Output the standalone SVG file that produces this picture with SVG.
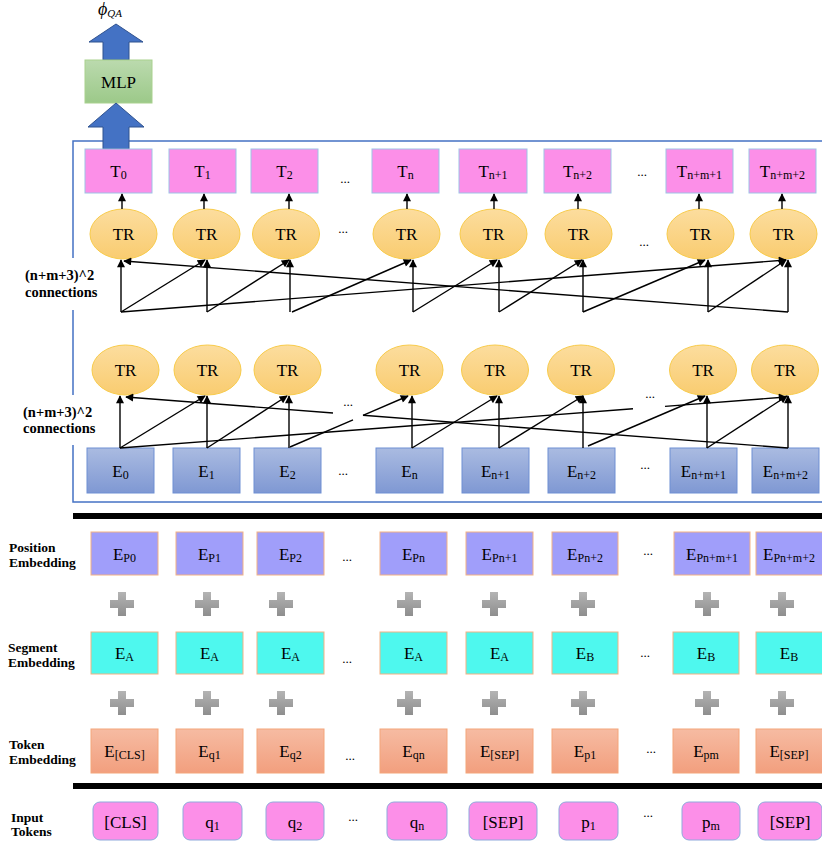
<svg xmlns="http://www.w3.org/2000/svg" xmlns:xlink="http://www.w3.org/1999/xlink" width="822" height="845" viewBox="0 0 822 845">
<style>
text{font-family:"Liberation Serif","Times New Roman",serif;fill:#000}
.lbl{font-size:17px;text-anchor:middle}
.sub{font-size:12px}
.side{font-size:13.5px;font-weight:bold}
.conn{font-size:14.5px;font-weight:bold}
.dots{font-size:13px;text-anchor:middle}
.tbox{fill:#FC8FE8;stroke:#9DC3E6;stroke-width:1}
.inp{fill:#FC8FE8;stroke:#8FAADC;stroke-width:1}
.tr{fill:url(#gTR);stroke:#F8CB4A;stroke-width:1}
.ebox{fill:url(#gE);stroke:#6E8FD3;stroke-width:1}
.pos{fill:#A09EFA;stroke:#F4B183;stroke-width:1}
.seg{fill:#4EF8EE;stroke:#F4B183;stroke-width:1}
.tok{fill:url(#gTok);stroke:#F4A57A;stroke-width:1}
.con line,.con path{stroke:#000;stroke-width:1.4;fill:none}
.arr{marker-end:url(#ah)}
.bigarrow{fill:#4472C4;stroke:#2F528F;stroke-width:1}
</style>
<defs>
<linearGradient id="gTR" x1="0" y1="0" x2="0" y2="1"><stop offset="0" stop-color="#FCDD9E"/><stop offset="1" stop-color="#F9CC70"/></linearGradient>
<linearGradient id="gE" x1="0" y1="0" x2="0" y2="1"><stop offset="0" stop-color="#AABBE1"/><stop offset="1" stop-color="#7F98D3"/></linearGradient>
<linearGradient id="gTok" x1="0" y1="0" x2="0" y2="1"><stop offset="0" stop-color="#F6BBA2"/><stop offset="1" stop-color="#F29F7E"/></linearGradient>
<linearGradient id="gMLP" x1="0" y1="0" x2="0" y2="1"><stop offset="0" stop-color="#BBDAAE"/><stop offset="1" stop-color="#9CC989"/></linearGradient>
<linearGradient id="gPlus" x1="0" y1="0" x2="0" y2="1"><stop offset="0" stop-color="#B4B4B4"/><stop offset="1" stop-color="#8E8E8E"/></linearGradient>
<marker id="ah" viewBox="0 0 10 10" refX="9" refY="5" markerWidth="9" markerHeight="8" markerUnits="userSpaceOnUse" orient="auto"><path d="M0,0 L10,5 L0,10 z" fill="#000"/></marker>
<path id="plus" d="M-4,-12 h8 v8 h8 v8 h-8 v8 h-8 v-8 h-8 v-8 h8 z" fill="url(#gPlus)"/>
</defs>
<rect width="822" height="845" fill="#fff"/>

<!-- outer encoder box -->
<rect id="encoder-box" x="73" y="141" width="780" height="361" fill="none" stroke="#4472C4" stroke-width="1.5"/>
<rect x="15" y="258" width="85" height="52" fill="#fff"/>
<rect x="15" y="395" width="85" height="50" fill="#fff"/>

<!-- top output -->
<g id="phi"><text x="98" y="15" style="font-size:18px;font-style:italic">ϕ<tspan style="font-size:11px" dy="2">QA</tspan></text></g>
<g id="arrow-out"><polygon class="bigarrow" points="116,24 143,42 129,42 129,60 103,60 103,42 89,42"/></g>
<g id="mlp"><rect x="85" y="60" width="67" height="43" fill="url(#gMLP)" stroke="#A9D18E" stroke-width="1"/><text class="lbl" x="118.5" y="88">MLP</text></g>
<g id="arrow-in"><polygon class="bigarrow" points="116,103 144,127 129,127 129,149 103,149 103,127 88,127"/></g>

<!-- T row -->
<g id="T0"><rect class="tbox" x="85" y="149" width="67" height="44"/><text class="lbl" x="118.5" y="177">T<tspan class="sub" dy="2">0</tspan></text></g>
<g id="T1"><rect class="tbox" x="169" y="149" width="67" height="44"/><text class="lbl" x="202.5" y="177">T<tspan class="sub" dy="2">1</tspan></text></g>
<g id="T2"><rect class="tbox" x="251" y="149" width="67" height="44"/><text class="lbl" x="284.5" y="177">T<tspan class="sub" dy="2">2</tspan></text></g>
<g id="Tn"><rect class="tbox" x="372" y="149" width="67" height="44"/><text class="lbl" x="405.5" y="177">T<tspan class="sub" dy="2">n</tspan></text></g>
<g id="Tn1"><rect class="tbox" x="459" y="149" width="68" height="44"/><text class="lbl" x="493" y="177">T<tspan class="sub" dy="2">n+1</tspan></text></g>
<g id="Tn2"><rect class="tbox" x="544" y="149" width="67" height="44"/><text class="lbl" x="577.5" y="177">T<tspan class="sub" dy="2">n+2</tspan></text></g>
<g id="Tnm1"><rect class="tbox" x="666" y="149" width="67" height="44"/><text class="lbl" x="699.5" y="177">T<tspan class="sub" dy="2">n+m+1</tspan></text></g>
<g id="Tnm2"><rect class="tbox" x="749" y="149" width="67" height="44"/><text class="lbl" x="782.5" y="177">T<tspan class="sub" dy="2">n+m+2</tspan></text></g>
<text class="dots" x="345" y="183">...</text>
<text class="dots" x="642" y="176">...</text>

<!-- top TR row -->
<g id="TRa0"><ellipse class="tr" cx="123.5" cy="234" rx="33.5" ry="25"/><text class="lbl" x="123.5" y="240">TR</text></g>
<g id="TRa1"><ellipse class="tr" cx="206.5" cy="234" rx="33.5" ry="25"/><text class="lbl" x="206.5" y="240">TR</text></g>
<g id="TRa2"><ellipse class="tr" cx="286" cy="234" rx="33.5" ry="25"/><text class="lbl" x="286" y="240">TR</text></g>
<g id="TRan"><ellipse class="tr" cx="406.5" cy="234" rx="33.5" ry="25"/><text class="lbl" x="406.5" y="240">TR</text></g>
<g id="TRan1"><ellipse class="tr" cx="493.5" cy="234" rx="33.5" ry="25"/><text class="lbl" x="493.5" y="240">TR</text></g>
<g id="TRan2"><ellipse class="tr" cx="578.5" cy="234" rx="33.5" ry="25"/><text class="lbl" x="578.5" y="240">TR</text></g>
<g id="TRanm1"><ellipse class="tr" cx="700.5" cy="234" rx="33.5" ry="25"/><text class="lbl" x="700.5" y="240">TR</text></g>
<g id="TRanm2"><ellipse class="tr" cx="783.5" cy="234" rx="33.5" ry="25"/><text class="lbl" x="783.5" y="240">TR</text></g>
<text class="dots" x="343" y="233">...</text>
<text class="dots" x="644" y="246">...</text>

<!-- bottom TR row -->
<g id="TRb0"><ellipse class="tr" cx="125.5" cy="370" rx="33.5" ry="25"/><text class="lbl" x="125.5" y="376">TR</text></g>
<g id="TRb1"><ellipse class="tr" cx="207.5" cy="370" rx="33.5" ry="25"/><text class="lbl" x="207.5" y="376">TR</text></g>
<g id="TRb2"><ellipse class="tr" cx="287.5" cy="370" rx="33.5" ry="25"/><text class="lbl" x="287.5" y="376">TR</text></g>
<g id="TRbn"><ellipse class="tr" cx="409.5" cy="370" rx="33.5" ry="25"/><text class="lbl" x="409.5" y="376">TR</text></g>
<g id="TRbn1"><ellipse class="tr" cx="495" cy="370" rx="33.5" ry="25"/><text class="lbl" x="495" y="376">TR</text></g>
<g id="TRbn2"><ellipse class="tr" cx="581" cy="370" rx="33.5" ry="25"/><text class="lbl" x="581" y="376">TR</text></g>
<g id="TRbnm1"><ellipse class="tr" cx="703" cy="370" rx="33.5" ry="25"/><text class="lbl" x="703" y="376">TR</text></g>
<g id="TRbnm2"><ellipse class="tr" cx="785" cy="370" rx="33.5" ry="25"/><text class="lbl" x="785" y="376">TR</text></g>
<text class="dots" x="348" y="406">...</text>
<text class="dots" x="650" y="398">...</text>

<!-- E row -->
<g id="E0"><rect class="ebox" x="87" y="448" width="67" height="45"/><text class="lbl" x="120.5" y="477">E<tspan class="sub" dy="2">0</tspan></text></g>
<g id="E1"><rect class="ebox" x="173" y="448" width="67" height="45"/><text class="lbl" x="206.5" y="477">E<tspan class="sub" dy="2">1</tspan></text></g>
<g id="E2"><rect class="ebox" x="254" y="448" width="67" height="45"/><text class="lbl" x="287.5" y="477">E<tspan class="sub" dy="2">2</tspan></text></g>
<g id="En"><rect class="ebox" x="376" y="448" width="67" height="45"/><text class="lbl" x="409.5" y="477">E<tspan class="sub" dy="2">n</tspan></text></g>
<g id="En1"><rect class="ebox" x="462" y="448" width="67" height="45"/><text class="lbl" x="495.5" y="477">E<tspan class="sub" dy="2">n+1</tspan></text></g>
<g id="En2"><rect class="ebox" x="548" y="448" width="67" height="45"/><text class="lbl" x="581.5" y="477">E<tspan class="sub" dy="2">n+2</tspan></text></g>
<g id="Enm1"><rect class="ebox" x="670" y="448" width="67" height="45"/><text class="lbl" x="703.5" y="477">E<tspan class="sub" dy="2">n+m+1</tspan></text></g>
<g id="Enm2"><rect class="ebox" x="752" y="448" width="67" height="45"/><text class="lbl" x="785.5" y="477">E<tspan class="sub" dy="2">n+m+2</tspan></text></g>
<text class="dots" x="343" y="475">...</text>
<text class="dots" x="645" y="469">...</text>

<!-- side labels -->
<g id="label-conn-top"><text class="conn" x="25" y="280">(n+m+3)^2</text><text class="conn" x="25" y="297">connections</text></g>
<g id="label-conn-bottom"><text class="conn" x="23" y="417">(n+m+3)^2</text><text class="conn" x="23" y="433">connections</text></g>

<!-- connectors -->
<g id="connectors" class="con">
<line class="arr" x1="122" y1="209" x2="122" y2="194"/>
<line class="arr" x1="204" y1="209" x2="204" y2="194"/>
<line class="arr" x1="289" y1="209" x2="289" y2="194"/>
<line class="arr" x1="407" y1="209" x2="407" y2="194"/>
<line class="arr" x1="494" y1="209" x2="494" y2="194"/>
<line class="arr" x1="578" y1="209" x2="578" y2="194"/>
<line class="arr" x1="699" y1="209" x2="699" y2="194"/>
<line class="arr" x1="782" y1="209" x2="782" y2="194"/>
<line class="arr" x1="121" y1="312" x2="121" y2="260"/>
<line class="arr" x1="121" y1="312" x2="205" y2="260"/>
<line class="arr" x1="121" y1="312" x2="786" y2="260"/>
<line class="arr" x1="788" y1="312" x2="124" y2="261"/>
<line class="arr" x1="207" y1="312" x2="207" y2="260"/>
<line class="arr" x1="207" y1="312" x2="289" y2="260"/>
<line class="arr" x1="290" y1="312" x2="290" y2="260"/>
<line class="arr" x1="292" y1="312" x2="411" y2="260"/>
<line class="arr" x1="413" y1="312" x2="413" y2="260"/>
<line class="arr" x1="413" y1="312" x2="497" y2="260"/>
<line class="arr" x1="499" y1="312" x2="499" y2="260"/>
<line class="arr" x1="499" y1="312" x2="582" y2="260"/>
<line class="arr" x1="583" y1="312" x2="583" y2="260"/>
<line class="arr" x1="583" y1="312" x2="705" y2="260"/>
<line class="arr" x1="708" y1="312" x2="708" y2="260"/>
<line class="arr" x1="708" y1="312" x2="786" y2="260"/>
<line class="arr" x1="788" y1="312" x2="788" y2="260"/>
<line class="arr" x1="120" y1="448" x2="120" y2="396"/>
<line class="arr" x1="120" y1="448" x2="205" y2="396"/>
<line x1="120" y1="448" x2="633" y2="408.8"/>
<line class="arr" x1="665" y1="406.4" x2="786" y2="397"/>
<line class="arr" x1="207" y1="448" x2="207" y2="396"/>
<line class="arr" x1="207" y1="448" x2="287" y2="396"/>
<line class="arr" x1="289" y1="448" x2="289" y2="396"/>
<line x1="290" y1="447" x2="353" y2="419.8"/>
<line class="arr" x1="363" y1="415.4" x2="408" y2="396"/>
<line class="arr" x1="412" y1="448" x2="412" y2="396"/>
<line class="arr" x1="412" y1="448" x2="497" y2="396"/>
<line class="arr" x1="499" y1="448" x2="499" y2="396"/>
<line class="arr" x1="499" y1="448" x2="583" y2="396"/>
<line class="arr" x1="583" y1="448" x2="583" y2="396"/>
<line class="arr" x1="588" y1="446" x2="705" y2="396"/>
<line class="arr" x1="707" y1="448" x2="707" y2="396"/>
<line class="arr" x1="707" y1="448" x2="787" y2="396"/>
<line class="arr" x1="788" y1="448" x2="788" y2="396"/>
<line x1="788" y1="448" x2="363" y2="415.3"/>
<line class="arr" x1="333" y1="413" x2="126" y2="397"/>
</g>

<!-- separators -->
<rect x="73" y="513" width="749" height="6" fill="#000"/>
<rect x="73" y="783" width="749" height="6" fill="#000"/>

<!-- side labels for embeddings -->
<g id="label-position"><text class="side" x="9" y="552">Position</text><text class="side" x="9" y="567">Embedding</text></g>
<g id="label-segment"><text class="side" x="8" y="652">Segment</text><text class="side" x="8" y="667">Embedding</text></g>
<g id="label-token"><text class="side" x="9" y="749">Token</text><text class="side" x="9" y="764">Embedding</text></g>
<g id="label-input"><text class="side" x="11" y="822">Input</text><text class="side" x="11" y="836">Tokens</text></g>

<!-- position embeddings -->
<g id="EP0"><rect class="pos" x="91" y="532" width="67" height="43"/><text class="lbl" x="124.5" y="560">E<tspan class="sub" dy="2">P0</tspan></text></g>
<g id="EP1"><rect class="pos" x="176" y="532" width="67" height="43"/><text class="lbl" x="209.5" y="560">E<tspan class="sub" dy="2">P1</tspan></text></g>
<g id="EP2"><rect class="pos" x="257" y="532" width="67" height="43"/><text class="lbl" x="290.5" y="560">E<tspan class="sub" dy="2">P2</tspan></text></g>
<g id="EPn"><rect class="pos" x="380" y="532" width="67" height="43"/><text class="lbl" x="413.5" y="560">E<tspan class="sub" dy="2">Pn</tspan></text></g>
<g id="EPn1"><rect class="pos" x="466" y="532" width="67" height="43"/><text class="lbl" x="499.5" y="560">E<tspan class="sub" dy="2">Pn+1</tspan></text></g>
<g id="EPn2"><rect class="pos" x="552" y="532" width="66" height="43"/><text class="lbl" x="585" y="560">E<tspan class="sub" dy="2">Pn+2</tspan></text></g>
<g id="EPnm1"><rect class="pos" x="674" y="532" width="76" height="43"/><text class="lbl" x="712" y="560">E<tspan class="sub" dy="2">Pn+m+1</tspan></text></g>
<g id="EPnm2"><rect class="pos" x="756" y="532" width="70" height="43"/><text class="lbl" x="789" y="560">E<tspan class="sub" dy="2">Pn+m+2</tspan></text></g>
<text class="dots" x="347" y="561">...</text>
<text class="dots" x="648" y="555">...</text>

<!-- plus signs -->
<g id="plus-row1">
<use xlink:href="#plus" x="122" y="604"/><use xlink:href="#plus" x="207" y="604"/><use xlink:href="#plus" x="281" y="604"/><use xlink:href="#plus" x="409" y="604"/>
<use xlink:href="#plus" x="494" y="604"/><use xlink:href="#plus" x="583" y="604"/><use xlink:href="#plus" x="707" y="604"/><use xlink:href="#plus" x="782" y="604"/>
</g>
<g id="plus-row2">
<use xlink:href="#plus" x="122" y="703"/><use xlink:href="#plus" x="207" y="703"/><use xlink:href="#plus" x="281" y="703"/><use xlink:href="#plus" x="409" y="703"/>
<use xlink:href="#plus" x="494" y="703"/><use xlink:href="#plus" x="583" y="703"/><use xlink:href="#plus" x="707" y="703"/><use xlink:href="#plus" x="782" y="703"/>
</g>

<!-- segment embeddings -->
<g id="SA0"><rect class="seg" x="91" y="632" width="67" height="42"/><text class="lbl" x="124.5" y="659">E<tspan class="sub" dy="2">A</tspan></text></g>
<g id="SA1"><rect class="seg" x="176" y="632" width="67" height="42"/><text class="lbl" x="209.5" y="659">E<tspan class="sub" dy="2">A</tspan></text></g>
<g id="SA2"><rect class="seg" x="257" y="632" width="67" height="42"/><text class="lbl" x="290.5" y="659">E<tspan class="sub" dy="2">A</tspan></text></g>
<g id="SAn"><rect class="seg" x="380" y="632" width="67" height="42"/><text class="lbl" x="413.5" y="659">E<tspan class="sub" dy="2">A</tspan></text></g>
<g id="SAn1"><rect class="seg" x="466" y="632" width="67" height="42"/><text class="lbl" x="499.5" y="659">E<tspan class="sub" dy="2">A</tspan></text></g>
<g id="SB1"><rect class="seg" x="552" y="632" width="66" height="42"/><text class="lbl" x="585" y="659">E<tspan class="sub" dy="2">B</tspan></text></g>
<g id="SBm"><rect class="seg" x="673" y="632" width="66" height="42"/><text class="lbl" x="706" y="659">E<tspan class="sub" dy="2">B</tspan></text></g>
<g id="SBsep"><rect class="seg" x="756" y="632" width="70" height="42"/><text class="lbl" x="789" y="659">E<tspan class="sub" dy="2">B</tspan></text></g>
<text class="dots" x="347" y="663">...</text>
<text class="dots" x="645" y="657">...</text>

<!-- token embeddings -->
<g id="TokCLS"><rect class="tok" x="91" y="729" width="67" height="44"/><text class="lbl" x="124.5" y="757">E<tspan class="sub" dy="2">[CLS]</tspan></text></g>
<g id="Tokq1"><rect class="tok" x="176" y="729" width="67" height="44"/><text class="lbl" x="209.5" y="757">E<tspan class="sub" dy="2">q1</tspan></text></g>
<g id="Tokq2"><rect class="tok" x="257" y="729" width="67" height="44"/><text class="lbl" x="290.5" y="757">E<tspan class="sub" dy="2">q2</tspan></text></g>
<g id="Tokqn"><rect class="tok" x="380" y="729" width="67" height="44"/><text class="lbl" x="413.5" y="757">E<tspan class="sub" dy="2">qn</tspan></text></g>
<g id="TokSEP1"><rect class="tok" x="466" y="729" width="67" height="44"/><text class="lbl" x="499.5" y="757">E<tspan class="sub" dy="2">[SEP]</tspan></text></g>
<g id="Tokp1"><rect class="tok" x="552" y="729" width="66" height="44"/><text class="lbl" x="585" y="757">E<tspan class="sub" dy="2">p1</tspan></text></g>
<g id="Tokpm"><rect class="tok" x="673" y="729" width="66" height="44"/><text class="lbl" x="706" y="757">E<tspan class="sub" dy="2">pm</tspan></text></g>
<g id="TokSEP2"><rect class="tok" x="756" y="729" width="70" height="44"/><text class="lbl" x="789" y="757">E<tspan class="sub" dy="2">[SEP]</tspan></text></g>
<text class="dots" x="350" y="760">...</text>
<text class="dots" x="651" y="753">...</text>

<!-- input tokens -->
<g id="InCLS"><rect class="inp" x="93" y="802" width="65" height="38" rx="7"/><text class="lbl" x="125.5" y="828">[CLS]</text></g>
<g id="Inq1"><rect class="inp" x="183" y="802" width="59" height="38" rx="7"/><text class="lbl" x="212.5" y="828">q<tspan class="sub" dy="2">1</tspan></text></g>
<g id="Inq2"><rect class="inp" x="266" y="802" width="58" height="38" rx="7"/><text class="lbl" x="295" y="828">q<tspan class="sub" dy="2">2</tspan></text></g>
<g id="Inqn"><rect class="inp" x="387" y="802" width="60" height="38" rx="7"/><text class="lbl" x="417" y="828">q<tspan class="sub" dy="2">n</tspan></text></g>
<g id="InSEP1"><rect class="inp" x="469" y="802" width="68" height="38" rx="7"/><text class="lbl" x="503" y="828">[SEP]</text></g>
<g id="Inp1"><rect class="inp" x="559" y="802" width="59" height="38" rx="7"/><text class="lbl" x="588.5" y="828">p<tspan class="sub" dy="2">1</tspan></text></g>
<g id="Inpm"><rect class="inp" x="682" y="802" width="58" height="38" rx="7"/><text class="lbl" x="711" y="828">p<tspan class="sub" dy="2">m</tspan></text></g>
<g id="InSEP2"><rect class="inp" x="758" y="802" width="64" height="38" rx="7"/><text class="lbl" x="790" y="828">[SEP]</text></g>
<text class="dots" x="353" y="821">...</text>
<text class="dots" x="648" y="817">...</text>
</svg>
